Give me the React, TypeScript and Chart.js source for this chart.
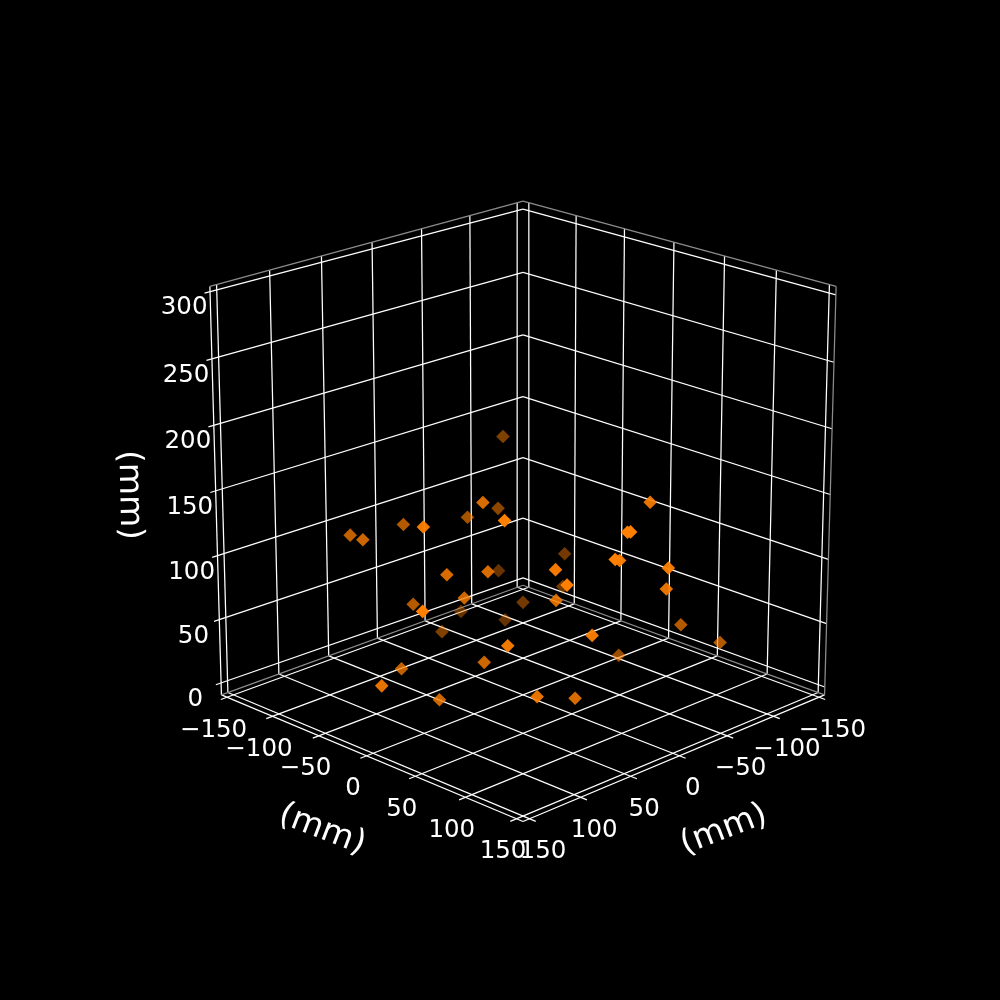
import { useEffect, useRef } from 'react';
import { Chart, registerables } from 'chart.js';

Chart.register(...registerables);

// Axis ticks (mm)
const horizontalTicks = [-150, -100, -50, 0, 50, 100, 150];
const heightTicks = [0, 50, 100, 150, 200, 250, 300];
const axisTitle = '(mm)';

// Sample positions (mm)
const xValues = [
  -59, 57, -30, 89, 14, 61, 117, 103, 110, 87, 66, -59, 69, -13, 32, 30, 42, 26, 3, -6, -84, 59, 69, -77, 37, -53,
  -54, 95, 52, -53, -63, -80, 70, 144, -32, 8, 70, 100, 151, 99, 76, 44,
];
const yValues = [
  -80, 17, -56, 71, -43, -61, 19, -72, -51, 11, 31, -85, 10, 113, 134, 135, 132, 121, 146, 136, -40, 91, 112, -35, 70,
  -53, -73, 80, 120, 46, 98, 121, -42, 46, -98, -77, 31, -23, 11, 15, 90, 96,
];
const zValues = [
  160, 163, 117, 172, 125, 127, 161, 127, 131, 115, 117, 52, 92, 170, 165, 165, 147, 139, 134, 113, 71, 133, 130, 48,
  98, 37, 17, 83, 90, 23, 59, 47, 73, 113, 23, 24, 49, 37, 49, 24, 42, 33,
];

// Camera, same set up as a 3D axes looking from elev 20 / azim 45
const ELEV = (20 * Math.PI) / 180;
const DIST = 10;
const FOCAL = 3950;
const CENTER_X = 523;
const CENTER_Y = 494.5;
const PAD = 6.25;
const XY_MAX = 150 + PAD;
const Z_MIN = -PAD;
const Z_MAX = 300 + PAD;
const BOX_HALF = 0.55;
const MM = BOX_HALF / XY_MAX;
const TICK_OUT = 6;

const depthOf = (x: number, y: number, z: number) =>
  Math.cos(ELEV) * (x + y) * MM * Math.SQRT1_2 + Math.sin(ELEV) * (z - 150) * MM;

const project = (x: number, y: number, z: number) => {
  const along = (x + y) * MM * Math.SQRT1_2;
  const across = (y - x) * MM * Math.SQRT1_2;
  const h = (z - 150) * MM;
  const up = -Math.sin(ELEV) * along + Math.cos(ELEV) * h;
  const d = DIST - depthOf(x, y, z);
  return { x: CENTER_X + (FOCAL * across) / d, y: CENTER_Y - (FOCAL * up) / d };
};

type P3 = [number, number, number];

const GRID = '#ffffff';
const EDGE = '#8c8c8c';
const AXIS = '#ffffff';

function segment(a: P3, b: P3, color: string, width = 1.25) {
  return {
    data: [project(...a), project(...b)],
    showLine: true,
    borderColor: color,
    borderWidth: width,
    pointRadius: 0,
    order: 1,
  };
}

function buildLines() {
  const lines: any[] = [];
  // pane outline
  lines.push(segment([XY_MAX, -XY_MAX, Z_MAX], [-XY_MAX, -XY_MAX, Z_MAX], EDGE));
  lines.push(segment([-XY_MAX, -XY_MAX, Z_MAX], [-XY_MAX, XY_MAX, Z_MAX], EDGE));
  lines.push(segment([-XY_MAX, XY_MAX, Z_MAX], [-XY_MAX, XY_MAX, Z_MIN], EDGE));
  lines.push(segment([XY_MAX, -XY_MAX, Z_MIN], [-XY_MAX, -XY_MAX, Z_MIN], EDGE));
  lines.push(segment([-XY_MAX, -XY_MAX, Z_MIN], [-XY_MAX, XY_MAX, Z_MIN], EDGE));
  // axis lines
  lines.push(segment([XY_MAX, -XY_MAX, Z_MIN], [XY_MAX, XY_MAX, Z_MIN], AXIS));
  lines.push(segment([XY_MAX, XY_MAX, Z_MIN], [-XY_MAX, XY_MAX, Z_MIN], AXIS));
  lines.push(segment([XY_MAX, -XY_MAX, Z_MIN], [XY_MAX, -XY_MAX, Z_MAX], AXIS));

  horizontalTicks.forEach((t) => {
    // floor, tick overshoot past the front edges
    lines.push(segment([-XY_MAX, t, Z_MIN], [XY_MAX + TICK_OUT, t, Z_MIN], GRID));
    lines.push(segment([t, -XY_MAX, Z_MIN], [t, XY_MAX + TICK_OUT, Z_MIN], GRID));
    // walls
    lines.push(segment([t, -XY_MAX, Z_MIN], [t, -XY_MAX, Z_MAX], GRID));
    lines.push(segment([-XY_MAX, t, Z_MIN], [-XY_MAX, t, Z_MAX], GRID));
  });
  heightTicks.forEach((t) => {
    lines.push(segment([XY_MAX, -XY_MAX - TICK_OUT, t], [-XY_MAX, -XY_MAX, t], GRID));
    lines.push(segment([-XY_MAX, -XY_MAX, t], [-XY_MAX, XY_MAX, t], GRID));
  });
  return lines;
}

function buildPoints() {
  const samples = xValues
    .map((x, i) => ({ x, y: yValues[i], z: zValues[i], depth: depthOf(x, yValues[i], zValues[i]) }))
    .sort((a, b) => a.depth - b.depth);
  // depth shading: far points fade to 0.3
  const near = 0.4;
  const far = -0.6;
  return {
    data: samples.map((s) => project(s.x, s.y, s.z)),
    pointStyle: 'rectRot',
    pointRadius: 6.8,
    pointBorderWidth: 0,
    pointBackgroundColor: samples.map((s) => {
      const a = 0.3 + (0.7 * (s.depth - far)) / (near - far);
      return `rgba(255,127,0,${Math.min(1, a).toFixed(3)})`;
    }),
    order: 0,
  };
}

const tickText = (t: number) => String(t).replace('-', '\u2212');

const labelPlugin = {
  id: 'axisText',
  afterDraw(chart: any) {
    const { ctx, scales } = chart;
    const put = (text: string, px: number, py: number, font: string, angle = 0) => {
      ctx.save();
      ctx.translate(scales.x.getPixelForValue(px), scales.y.getPixelForValue(py));
      ctx.rotate((angle * Math.PI) / 180);
      ctx.font = font;
      ctx.fillStyle = '#ffffff';
      ctx.textAlign = 'center';
      ctx.textBaseline = 'middle';
      ctx.fillText(text, 0, 0);
      ctx.restore();
    };
    const tickFont = '24.5px "DejaVu Sans"';
    const titleFont = '33px "DejaVu Sans"';
    horizontalTicks.forEach((t) => {
      const left = project(XY_MAX, t, Z_MIN);
      put(tickText(t), left.x - 13.5, left.y + 33, tickFont);
      const right = project(t, XY_MAX, Z_MIN);
      put(tickText(t), right.x + 13.5, right.y + 33, tickFont);
    });
    heightTicks.forEach((t) => {
      const p = project(XY_MAX, -XY_MAX, t);
      put(tickText(t), p.x - 26, p.y + 13, tickFont);
    });
    put(axisTitle, 322, 830, titleFont, 21);
    put(axisTitle, 724, 830, titleFont, -21);
    put(axisTitle, 129, 495, titleFont, 89);
  },
};

export default function App() {
  const canvasRef = useRef<HTMLCanvasElement>(null);

  useEffect(() => {
    if (!canvasRef.current) return;
    document.body.style.margin = '0';
    document.body.style.background = '#000';

    const chart = new Chart(canvasRef.current, {
      type: 'scatter',
      data: { datasets: [...buildLines(), buildPoints()] },
      options: {
        animation: false,
        responsive: false,
        devicePixelRatio: 1,
        layout: { padding: 0, autoPadding: false },
        scales: {
          x: { type: 'linear', display: false, min: 0, max: 1000 },
          y: { type: 'linear', display: false, min: 0, max: 1000, reverse: true },
        },
        plugins: { legend: { display: false }, tooltip: { enabled: false } },
      },
      plugins: [labelPlugin],
    } as any);

    return () => chart.destroy();
  }, []);

  return (
    <div style={{ position: 'absolute', left: 0, top: 0, width: 1000, height: 1000, background: '#000' }}>
      <canvas ref={canvasRef} width={1000} height={1000} style={{ display: 'block' }} />
    </div>
  );
}
